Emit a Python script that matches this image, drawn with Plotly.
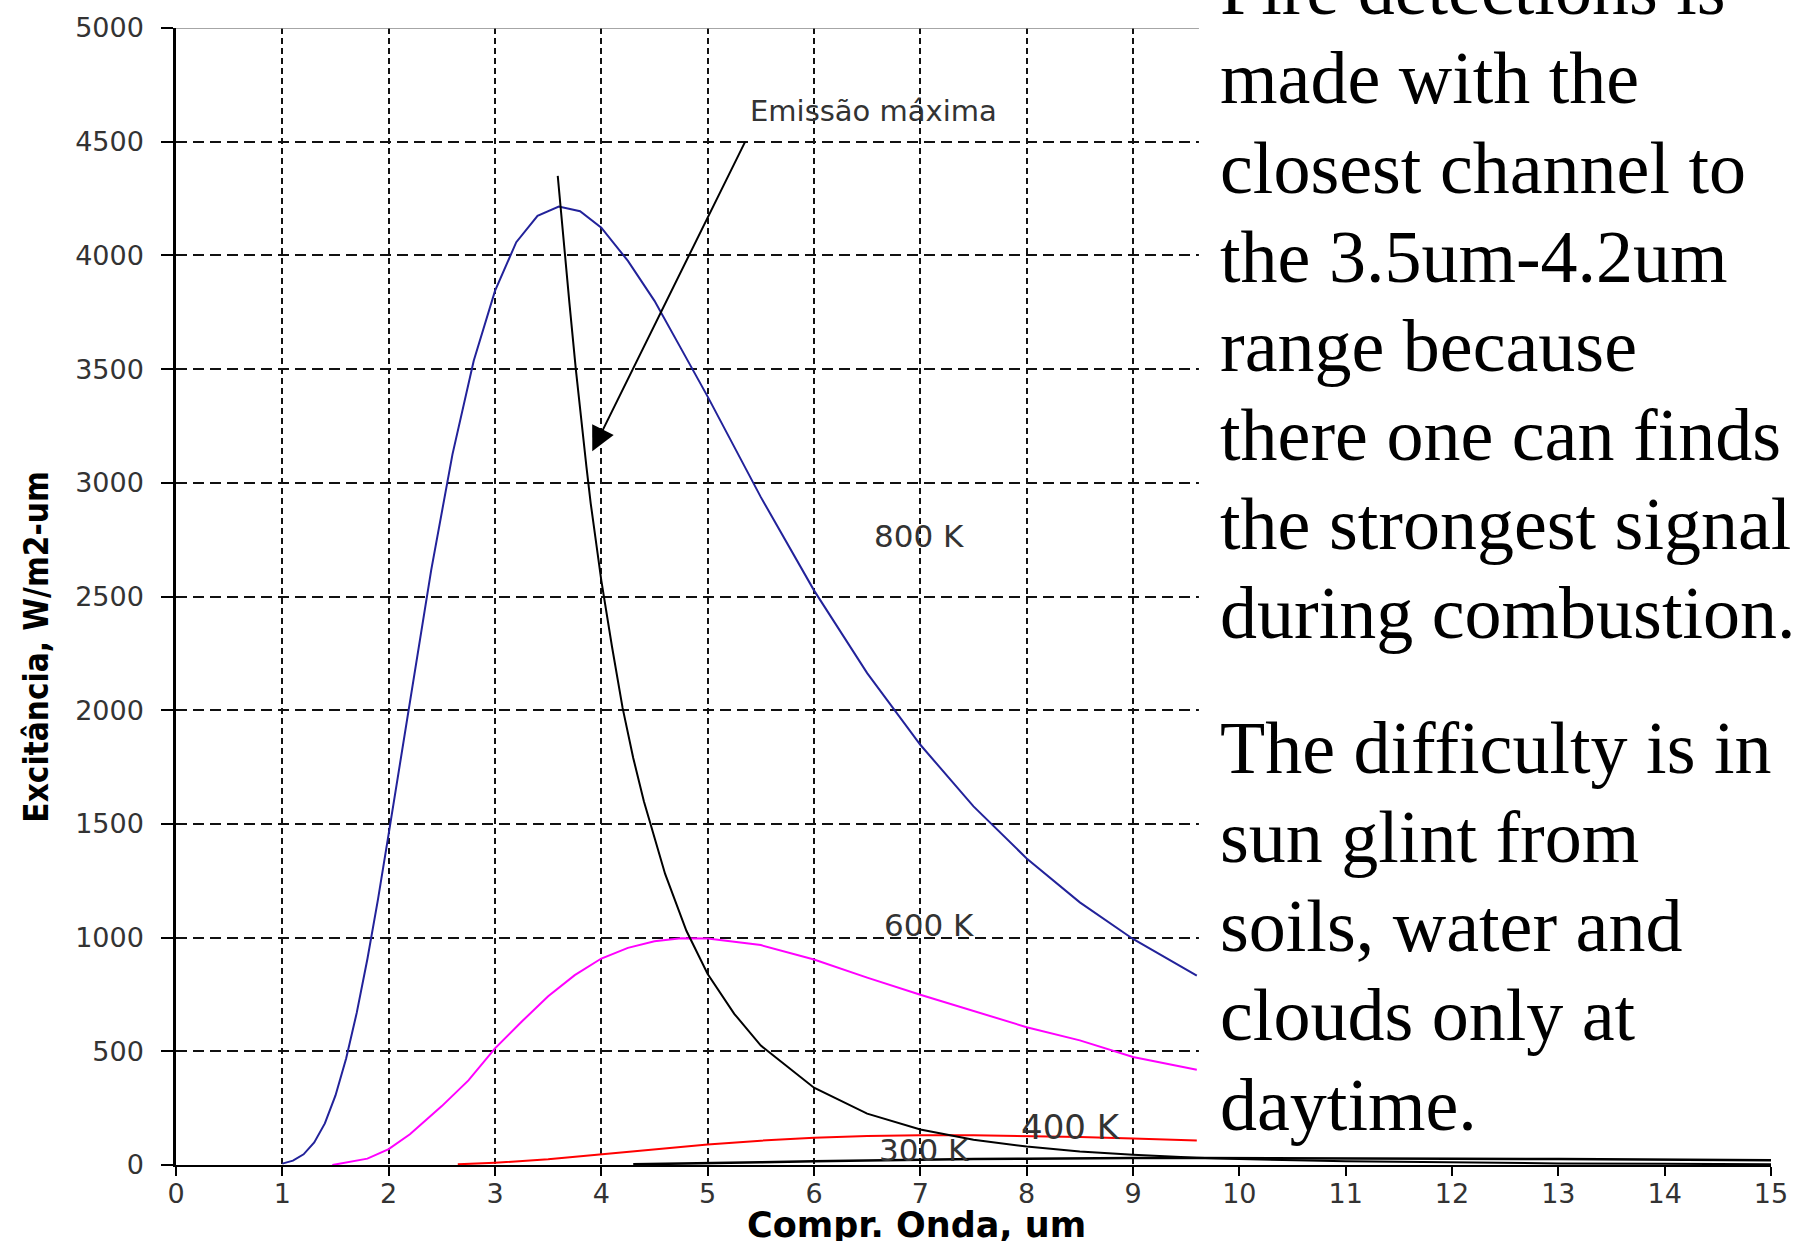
import plotly.graph_objects as go

# curves (wavelength in um, exitance in W/m2-um)
wave_800 = [1.0, 1.1, 1.2, 1.3, 1.4, 1.5, 1.6, 1.7, 1.8, 1.9, 2.0, 2.2, 2.4, 2.6, 2.8,
            3.0, 3.2, 3.4, 3.6, 3.8, 4.0, 4.25, 4.5, 4.75, 5.0, 5.5, 6.0, 6.5, 7.0,
            7.5, 8.0, 8.5, 9.0, 9.6]
exc_800 = [6, 19, 47, 99, 183, 306, 468, 670, 906, 1169, 1456, 2045, 2616, 3125, 3537,
           3844, 4058, 4174, 4215, 4194, 4122, 3976, 3800, 3590, 3379, 2937, 2527, 2163, 1848,
           1577, 1348, 1155, 994, 833]

wave_600 = [1.47, 1.6, 1.8, 2.0, 2.2, 2.5, 2.75, 3.0, 3.25, 3.5, 3.75, 4.0, 4.25, 4.5,
            4.75, 5.0, 5.5, 6.0, 6.5, 7.0, 7.5, 8.0, 8.5, 9.0, 9.6]
exc_600 = [0, 10, 28, 70, 135, 259, 372, 513, 630, 742, 835, 908, 955, 984,
           997, 996, 967, 904, 824, 749, 679, 606, 548, 475, 419]

wave_400 = [2.65, 3.0, 3.5, 4.0, 4.5, 5.0, 5.5, 6.0, 6.5, 7.0, 7.5, 8.0, 8.5, 9.0, 9.6]
exc_400 = [3, 10, 25, 46, 69, 90, 107, 120, 127, 131, 131, 128, 123, 117, 108]

wave_300 = [4.3, 4.5, 5.0, 5.5, 6.0, 6.5, 7.0, 7.5, 8.0, 8.5, 9.0, 9.6, 10, 11, 12, 13, 14, 15]
exc_300 = [3, 5, 8, 12, 16, 20, 23, 26, 28, 30, 31, 31, 31, 30, 28, 26, 23, 21]

# locus of maximum emission
wave_max = [3.59, 3.65, 3.7, 3.76, 3.8, 3.86, 3.9, 4.0, 4.1, 4.2, 4.3, 4.4, 4.6, 4.8, 5.0,
            5.25, 5.5, 6.0, 6.5, 7.0, 7.5, 8.0, 8.5, 9.0, 9.6, 10, 11, 12, 13, 14, 15]
exc_max = [4350, 4030, 3790, 3500, 3320, 3070, 2910, 2570, 2280, 2010, 1790, 1600, 1280, 1030, 840,
           665, 525, 340, 226, 156, 111, 81, 59, 45, 32, 26, 17, 11, 7, 5, 3.5]

x_ticks = list(range(0, 16))
y_ticks = list(range(0, 5001, 500))
x_grid = list(range(1, 10))
y_grid = list(range(500, 5000, 500))

curve_labels = ["800 K", "600 K", "400 K", "300 K"]
label_x = [6.99, 7.08, 8.42, 7.03]
label_y = [2767, 1057, 168, 66]

note_1 = ["Fire detections is", "made with the", "closest channel to", "the 3.5um-4.2um",
          "range because", "there one can finds", "the strongest signal", "during combustion."]
note_2 = ["The difficulty is in", "sun glint from", "soils, water and", "clouds only at",
          "daytime."]

W, H = 1807, 1241
L, R, T, B = 176, 36, 20, 76
plot_h = H - T - B


def paper_y(px):
    return (H - B - px) / plot_h


fig = go.Figure()
fig.add_trace(go.Scatter(x=wave_800, y=exc_800, mode="lines",
                         line=dict(color="#22229a", width=2)))
fig.add_trace(go.Scatter(x=wave_600, y=exc_600, mode="lines",
                         line=dict(color="#ff00ff", width=2)))
fig.add_trace(go.Scatter(x=wave_400, y=exc_400, mode="lines",
                         line=dict(color="#ff0000", width=2)))
fig.add_trace(go.Scatter(x=wave_300, y=exc_300, mode="lines",
                         line=dict(color="#000000", width=2.5)))
fig.add_trace(go.Scatter(x=wave_max, y=exc_max, mode="lines",
                         line=dict(color="#000000", width=2)))

tick_font = dict(family="DejaVu Sans", size=27, color="#333333")

fig.update_xaxes(
    range=[0, 15], tickvals=x_ticks, showgrid=False, zeroline=False,
    showline=True, linecolor="black", linewidth=2,
    ticks="outside", ticklen=9, tickwidth=2, tickcolor="black",
    tickfont=tick_font, ticklabelstandoff=-5,
    minor=dict(tickvals=x_grid, showgrid=True, gridcolor="#111111",
               gridwidth=2, griddash="6px,4px", ticks=""))
fig.update_yaxes(
    range=[0, 5000], tickvals=y_ticks, showgrid=False, zeroline=False,
    showline=True, linecolor="black", linewidth=2.5,
    ticks="outside", ticklen=12, tickwidth=2, tickcolor="black",
    tickfont=tick_font, ticklabelstandoff=12,
    minor=dict(tickvals=y_grid, showgrid=True, gridcolor="#111111",
               gridwidth=2, griddash="11px,6px", ticks=""))

# top border line and the white box that hides the right part of the chart
fig.add_shape(type="line", xref="paper", yref="y", x0=0, x1=1, y0=5000, y1=5000,
              line=dict(color="#888888", width=1.5), layer="above")
fig.add_shape(type="rect", xref="x", yref="y", x0=9.62, x1=15.2, y0=40, y1=5400,
              fillcolor="white", line=dict(width=0), layer="above")

for txt, lx, ly in zip(curve_labels, label_x, label_y):
    fig.add_annotation(x=lx, y=ly, text=txt, showarrow=False,
                       xanchor="center", yanchor="middle",
                       font=dict(family="DejaVu Sans", size=34 if txt == "400 K" else 31,
                                 color="#333333"))

fig.add_annotation(x=6.56, y=4634, text="Emissão máxima", showarrow=False,
                   xanchor="center", yanchor="middle",
                   font=dict(family="DejaVu Sans", size=29, color="#333333"))
fig.add_annotation(x=3.915, y=3139, ax=5.36, ay=4507, axref="x", ayref="y",
                   text="", showarrow=True, arrowhead=2, arrowsize=2.4,
                   arrowwidth=2, arrowcolor="black")

fig.add_annotation(x=(916 - L) / (W - L - R), y=paper_y(1225), xref="paper", yref="paper",
                   xanchor="center", yanchor="middle",
                   text="<b>Compr. Onda, um</b>", showarrow=False,
                   font=dict(family="DejaVu Sans", size=35, color="black"))
fig.add_annotation(x=(37 - L) / (W - L - R), y=paper_y(643), xref="paper", yref="paper",
                   xanchor="center", yanchor="middle",
                   text="<b>Excitância, W/m2-um</b>", textangle=-90, showarrow=False,
                   font=dict(family="DejaVu Sans Condensed, Liberation Sans Narrow, Arial Narrow, sans-serif",
                             size=33, color="black"))

# explanatory text on the right, one annotation per line
text_x = (1218 - L) / (W - L - R)
line_step = 89.8
serif = dict(family="Liberation Serif, Times New Roman, serif", size=74, color="black")
for i, line in enumerate(note_1):
    base = 6 + i * line_step
    fig.add_annotation(x=text_x, y=paper_y(base - 25), xref="paper", yref="paper",
                       xanchor="left", yanchor="middle", text=line, showarrow=False,
                       font=serif)
for i, line in enumerate(note_2):
    base = 770 + i * line_step
    fig.add_annotation(x=text_x, y=paper_y(base - 25), xref="paper", yref="paper",
                       xanchor="left", yanchor="middle", text=line, showarrow=False,
                       font=serif)

fig.update_layout(
    width=W, height=H,
    margin=dict(l=L, r=R, t=T, b=B),
    plot_bgcolor="white", paper_bgcolor="white",
    showlegend=False)

fig.write_html("out.html", config={"displayModeBar": False},
               post_script="document.body.style.margin='0';")
